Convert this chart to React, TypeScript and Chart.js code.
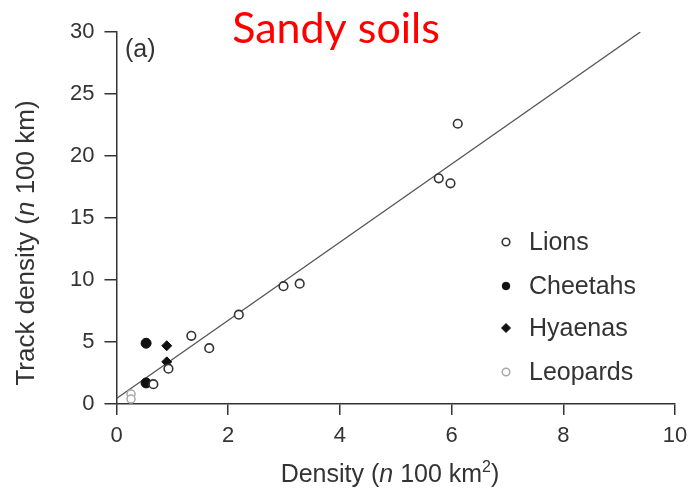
import React, { useEffect, useRef } from 'react';
import { Chart, registerables } from 'chart.js';

Chart.register(...registerables);

// Data
const lions = [
  { x: 6.11, y: 22.6 },
  { x: 5.77, y: 18.2 },
  { x: 5.98, y: 17.8 },
  { x: 3.28, y: 9.7 },
  { x: 2.99, y: 9.5 },
  { x: 2.19, y: 7.2 },
  { x: 1.34, y: 5.5 },
  { x: 1.66, y: 4.5 },
  { x: 0.93, y: 2.85 },
  { x: 0.66, y: 1.6 },
];
const cheetahs = [
  { x: 0.53, y: 4.9 },
  { x: 0.53, y: 1.7 },
];
const hyaenas = [
  { x: 0.9, y: 4.7 },
  { x: 0.9, y: 3.4 },
];
const leopards = [
  { x: 0.26, y: 0.8 },
  { x: 0.26, y: 0.4 },
];
const fitLine = [
  { x: 0, y: 0.45 },
  { x: 9.38, y: 30 },
];
const legendLabels = ['Lions', 'Cheetahs', 'Hyaenas', 'Leopards'];
const xTickValues = [0, 2, 4, 6, 8, 10];
const yTickValues = [0, 5, 10, 15, 20, 25, 30];

const TEXT = '#333';
const FONT = '"Liberation Sans", Arial, sans-serif';

type Seg = { t: string; italic?: boolean; sup?: boolean };

function drawRich(ctx: CanvasRenderingContext2D, segs: Seg[], cx: number, cy: number, size: number) {
  const fontFor = (s: Seg) => `${s.italic ? 'italic ' : ''}${s.sup ? Math.round(size * 0.65) : size}px ${FONT}`;
  let total = 0;
  const widths = segs.map((s) => {
    ctx.font = fontFor(s);
    const w = ctx.measureText(s.t).width;
    total += w;
    return w;
  });
  let x = cx - total / 2;
  ctx.textAlign = 'left';
  ctx.textBaseline = 'alphabetic';
  segs.forEach((s, i) => {
    ctx.font = fontFor(s);
    ctx.fillText(s.t, x, s.sup ? cy - size * 0.42 : cy);
    x += widths[i];
  });
}

const decorPlugin = {
  id: 'decor',
  afterDraw(chart: any) {
    const ctx: CanvasRenderingContext2D = chart.ctx;
    ctx.save();
    ctx.fillStyle = TEXT;

    // Panel label
    ctx.font = `25px ${FONT}`;
    ctx.textAlign = 'left';
    ctx.textBaseline = 'middle';
    ctx.fillText('(a)', 125, 50);

    // Title
    ctx.fillStyle = '#ff0000';
    ctx.font = `43px Lato, "Open Sans", sans-serif`;
    ctx.textAlign = 'center';
    ctx.textBaseline = 'alphabetic';
    ctx.fillText('Sandy soils', 336, 43);

    // X axis title
    ctx.fillStyle = TEXT;
    drawRich(
      ctx,
      [{ t: 'Density (' }, { t: 'n', italic: true }, { t: ' 100 km' }, { t: '2', sup: true }, { t: ')' }],
      390,
      482,
      25
    );

    // Y axis title
    ctx.save();
    ctx.translate(34, 243);
    ctx.rotate(-Math.PI / 2);
    drawRich(ctx, [{ t: 'Track density (' }, { t: 'n', italic: true }, { t: ' 100 km)' }], 0, 0, 26);
    ctx.restore();

    // Legend
    const rows = [242, 286, 328, 372];
    const mx = 506;
    legendLabels.forEach((label, i) => {
      const ds = chart.data.datasets[i];
      const y = rows[i];
      ctx.beginPath();
      if (ds.pointStyle === 'rectRot') {
        const r = 4.5;
        ctx.moveTo(mx, y - r);
        ctx.lineTo(mx + r, y);
        ctx.lineTo(mx, y + r);
        ctx.lineTo(mx - r, y);
        ctx.closePath();
      } else {
        ctx.arc(mx, y, 3.8, 0, Math.PI * 2);
      }
      ctx.fillStyle = ds.backgroundColor;
      ctx.fill();
      ctx.lineWidth = ds.borderWidth;
      ctx.strokeStyle = ds.borderColor;
      ctx.stroke();
      ctx.fillStyle = TEXT;
      ctx.font = `25px ${FONT}`;
      ctx.textAlign = 'left';
      ctx.textBaseline = 'middle';
      ctx.fillText(label, 529, y + 1);
    });
    ctx.restore();
  },
};

export default function App() {
  const ref = useRef<HTMLCanvasElement>(null);
  useEffect(() => {
    if (!ref.current) return;
    const chart = new Chart(ref.current, {
      type: 'scatter',
      data: {
        datasets: [
          {
            label: legendLabels[0],
            data: lions,
            pointStyle: 'circle',
            pointRadius: 4.3,
            backgroundColor: '#ffffff',
            borderColor: '#333333',
            borderWidth: 1.6,
            order: 1,
          },
          {
            label: legendLabels[1],
            data: cheetahs,
            pointStyle: 'circle',
            pointRadius: 5,
            backgroundColor: '#111111',
            borderColor: '#111111',
            borderWidth: 1,
            order: 1,
          },
          {
            label: legendLabels[2],
            data: hyaenas,
            pointStyle: 'rectRot',
            pointRadius: 5,
            backgroundColor: '#111111',
            borderColor: '#111111',
            borderWidth: 1,
            order: 1,
          },
          {
            label: legendLabels[3],
            data: leopards,
            pointStyle: 'circle',
            pointRadius: 4,
            backgroundColor: '#ffffff',
            borderColor: '#a8a8a8',
            borderWidth: 1.5,
            order: 1,
          },
          {
            type: 'line' as any,
            label: 'fit',
            data: fitLine,
            borderColor: '#555555',
            borderWidth: 1.3,
            pointRadius: 0,
            fill: false,
            order: 10,
          } as any,
        ],
      },
      options: {
        responsive: false,
        animation: false,
        layout: { padding: { top: 32, right: 15, left: 0, bottom: 0 } },
        plugins: { legend: { display: false }, tooltip: { enabled: false }, title: { display: false } },
        scales: {
          x: {
            type: 'linear',
            min: 0,
            max: 10,
            afterBuildTicks: (s: any) => {
              s.ticks = xTickValues.map((v) => ({ value: v }));
            },
            afterFit: (s: any) => {
              s.height = 84;
              s.paddingRight = 0;
              s.paddingLeft = 0;
            },
            ticks: { color: TEXT, font: { size: 22, family: FONT }, padding: 8, maxRotation: 0 },
            grid: { display: true, drawOnChartArea: false, drawTicks: true, tickLength: 11, color: TEXT, lineWidth: 1.5 },
            border: { display: true, color: TEXT, width: 1.5 },
          },
          y: {
            type: 'linear',
            min: 0,
            max: 30,
            afterBuildTicks: (s: any) => {
              s.ticks = yTickValues.map((v) => ({ value: v }));
            },
            afterFit: (s: any) => {
              s.width = 116.5;
              s.paddingTop = 0;
              s.paddingBottom = 0;
            },
            ticks: { color: TEXT, font: { size: 22, family: FONT }, padding: 10 },
            grid: { display: true, drawOnChartArea: false, drawTicks: true, tickLength: 12, color: TEXT, lineWidth: 1.5 },
            border: { display: true, color: TEXT, width: 1.5 },
          },
        },
      },
      plugins: [decorPlugin],
    });
    return () => chart.destroy();
  }, []);
  return (
    <div style={{ position: 'fixed', left: 0, top: 0, width: 690, height: 488, background: '#fff' }}>
      <canvas ref={ref} width={690} height={488} style={{ width: 690, height: 488, display: 'block' }} />
    </div>
  );
}
